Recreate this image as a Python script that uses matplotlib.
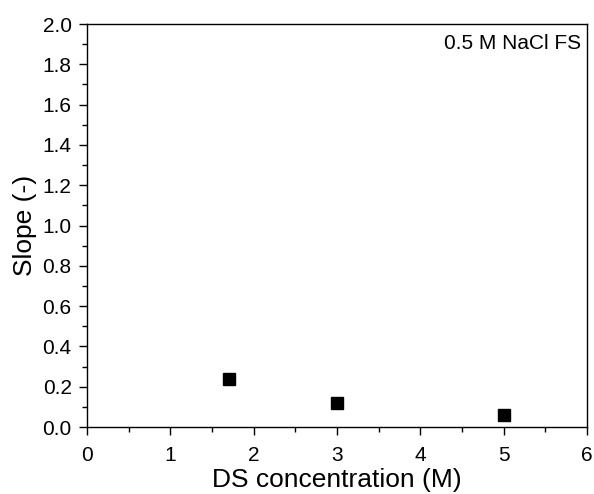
import matplotlib.pyplot as plt
from matplotlib.ticker import MultipleLocator

plt.rcParams['font.family'] = ['Liberation Sans', 'DejaVu Sans']

# Data
ds_conc = [1.7, 3.0, 5.0]
slope = [0.237, 0.118, 0.06]

fig = plt.figure(figsize=(5.94, 4.94), dpi=100)
ax = fig.add_axes([0.1465, 0.1356, 0.8415, 0.8158])

ax.plot(ds_conc, slope, linestyle='none', marker='s', markersize=8.5, color='black')

ax.set_xlim(0, 6)
ax.set_ylim(0, 2.0)
ax.xaxis.set_major_locator(MultipleLocator(1))
ax.xaxis.set_minor_locator(MultipleLocator(0.5))
ax.yaxis.set_major_locator(MultipleLocator(0.2))
ax.yaxis.set_minor_locator(MultipleLocator(0.1))
ax.yaxis.set_major_formatter(lambda v, p: f'{v:.1f}')

ax.tick_params(which='major', direction='out', length=6, width=1, labelsize=15)
ax.tick_params(axis='x', which='major', pad=8)
ax.tick_params(axis='y', which='major', pad=5)
ax.tick_params(which='minor', direction='out', length=3.5, width=1)
for s in ax.spines.values():
    s.set_linewidth(1)

ax.set_xlabel('DS concentration (M)', fontsize=19, labelpad=2)
ax.set_ylabel('Slope (-)', fontsize=19, labelpad=4)

ax.text(0.988, 0.975, '0.5 M NaCl FS', transform=ax.transAxes,
        ha='right', va='top', fontsize=15)

fig.savefig('out.png', dpi=100)
